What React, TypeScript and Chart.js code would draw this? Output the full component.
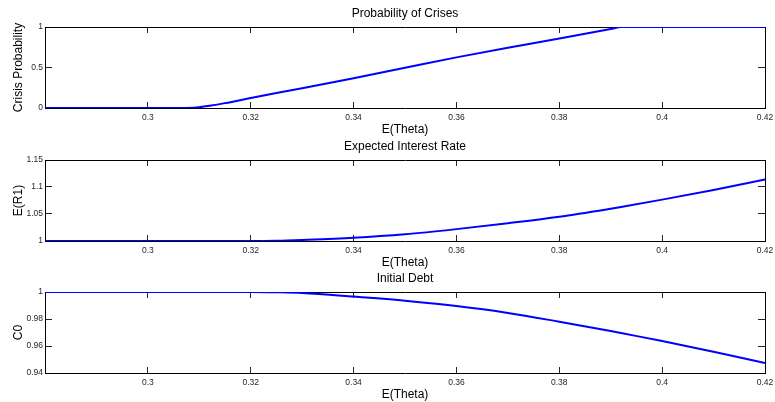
import React, { useEffect, useRef } from "react";
import { Chart, registerables } from "chart.js";

Chart.register(...registerables);

// ---- Data ----
const theta = [
  0.28, 0.29, 0.3, 0.305, 0.309, 0.312, 0.315, 0.32, 0.325, 0.33, 0.34, 0.35,
  0.36, 0.37, 0.38, 0.39, 0.392, 0.4, 0.41, 0.42,
];
const crisisProbability = [
  0, 0, 0, 0, 0.003, 0.028, 0.06, 0.123, 0.185, 0.245, 0.368, 0.497, 0.625,
  0.745, 0.858, 0.975, 1, 1, 1, 1,
];
const expectedRate = [
  1, 1, 1, 1, 1, 1, 1, 1, 1.0005, 1.002, 1.006, 1.0125, 1.022, 1.033, 1.045,
  1.0598, 1.063, 1.0766, 1.0945, 1.1138,
];
const initialDebt = [
  1, 1, 1, 1, 1, 1, 1, 1, 0.9998, 0.9993, 0.9966, 0.9935, 0.9896, 0.9845,
  0.978, 0.9711, 0.9696, 0.9637, 0.9557, 0.9474,
];
const xTickValues = [0.3, 0.32, 0.34, 0.36, 0.38, 0.4, 0.42];
const probTicks = [0, 0.5, 1];
const rateTicks = [1, 1.05, 1.1, 1.15];
const debtTicks = [0.94, 0.96, 0.98, 1];
const xLabel = "E(Theta)";

const FONT = "'Liberation Sans', Arial, Helvetica, sans-serif";
const fmt = (v: number) => String(+Number(v).toFixed(4));

type Panel = {
  title: string;
  yLabel: string;
  values: number[];
  ticks: number[];
  top: number;
};

const panels: Panel[] = [
  { title: "Probability of Crises", yLabel: "Crisis Probability", values: crisisProbability, ticks: probTicks, top: 0 },
  { title: "Expected Interest Rate", yLabel: "E(R1)", values: expectedRate, ticks: rateTicks, top: 133 },
  { title: "Initial Debt", yLabel: "C0", values: initialDebt, ticks: debtTicks, top: 265 },
];

const W = 775;
const H = 137;

function PanelChart({ p }: { p: Panel }) {
  const ref = useRef<HTMLCanvasElement | null>(null);
  useEffect(() => {
    if (!ref.current) return;
    const yMin = p.ticks[0];
    const yMax = p.ticks[p.ticks.length - 1];
    const xMin = 0.28;
    const xMax = 0.42;
    const tickColor = "#262626";
    const border = { display: true, color: "#000", width: 1 };
    const setX = (s: any) => {
      s.ticks = xTickValues.map((v) => ({ value: v }));
    };
    const setY = (s: any) => {
      s.ticks = p.ticks.map((v) => ({ value: v }));
    };
    const fixH = (h: number) => (s: any) => {
      s.height = h;
      s.paddingLeft = 0;
      s.paddingRight = 0;
    };
    const fixW = (w: number) => (s: any) => {
      s.width = w;
      s.paddingTop = 0;
      s.paddingBottom = 0;
    };
    const chart = new Chart(ref.current, {
      type: "line",
      data: {
        datasets: [
          {
            data: theta.map((x, i) => ({ x, y: p.values[i] })),
            borderColor: "#0000ff",
            borderWidth: 2,
            pointRadius: 0,
            fill: false,
            cubicInterpolationMode: "monotone",
            xAxisID: "x",
            yAxisID: "y",
          },
        ],
      },
      options: {
        animation: false,
        responsive: false,
        devicePixelRatio: 1,
        layout: { padding: { left: 0, right: 10, top: 0, bottom: 0 } },
        plugins: {
          legend: { display: false },
          tooltip: { enabled: false },
          title: {
            display: true,
            text: p.title,
            fullSize: false,
            color: "#000",
            font: { family: FONT, size: 12, weight: "normal" },
            padding: { top: 6, bottom: 6.6 },
          },
        },
        scales: {
          x: {
            type: "linear",
            position: "bottom",
            min: xMin,
            max: xMax,
            afterBuildTicks: setX,
            afterFit: fixH(29),
            ticks: {
              callback: (v: any) => fmt(v),
              font: { family: FONT, size: 8.5 },
              color: tickColor,
              padding: 10.3,
              maxRotation: 0,
              autoSkip: false,
            },
            grid: { drawOnChartArea: false, drawTicks: true, tickLength: -6, color: tickColor },
            border,
            title: {
              display: true,
              text: xLabel,
              color: "#000",
              font: { family: FONT, size: 12 },
              padding: { top: 0, bottom: 0 },
            },
          },
          x2: {
            type: "linear",
            position: "top",
            min: xMin,
            max: xMax,
            afterBuildTicks: setX,
            afterFit: fixH(0),
            ticks: { display: false },
            grid: { drawOnChartArea: false, drawTicks: true, tickLength: -6, color: tickColor },
            border,
          },
          y: {
            type: "linear",
            position: "left",
            min: yMin,
            max: yMax,
            afterBuildTicks: setY,
            afterFit: fixW(45),
            ticks: {
              callback: (v: any) => fmt(v),
              font: { family: FONT, size: 8.5 },
              color: tickColor,
              padding: 9,
              autoSkip: false,
            },
            grid: { drawOnChartArea: false, drawTicks: true, tickLength: -7, color: tickColor },
            border,
            title: {
              display: true,
              text: p.yLabel,
              color: "#000",
              font: { family: FONT, size: 12 },
              padding: { top: 11, bottom: 0 },
            },
          },
          y2: {
            type: "linear",
            position: "right",
            min: yMin,
            max: yMax,
            afterBuildTicks: setY,
            afterFit: fixW(0),
            ticks: { display: false },
            grid: { drawOnChartArea: false, drawTicks: true, tickLength: -7, color: tickColor },
            border,
          },
        },
      } as any,
    });
    return () => chart.destroy();
  }, [p]);
  return (
    <canvas
      ref={ref}
      width={W}
      height={H}
      style={{ position: "absolute", left: 0, top: p.top, width: W, height: H }}
    />
  );
}

export default function App() {
  return (
    <div
      style={{
        position: "absolute",
        left: 0,
        top: 0,
        width: W,
        height: 402,
        background: "#fff",
        overflow: "hidden",
      }}
    >
      {panels.map((p) => (
        <PanelChart key={p.title} p={p} />
      ))}
    </div>
  );
}
